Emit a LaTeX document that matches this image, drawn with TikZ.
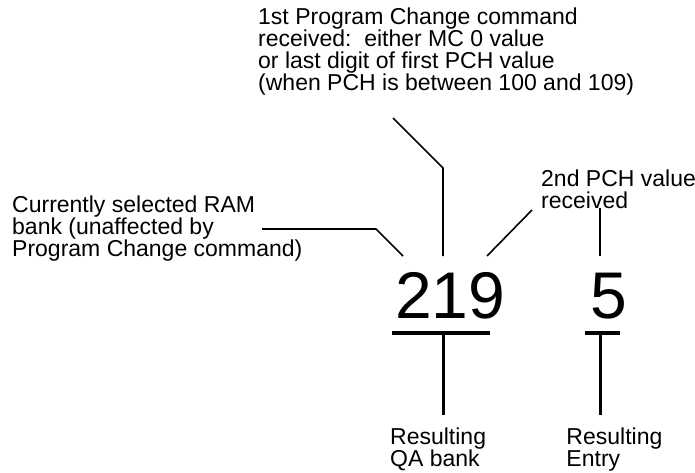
\documentclass[tikz,border=0pt]{standalone}
\usepackage{fontspec}
\setmainfont{Liberation Sans}
\usetikzlibrary{positioning}

\tikzset{
  note/.style={align=left, inner sep=0pt, anchor=north west,
    font=\fontsize{23}{22}\selectfont},
  digits/.style={inner sep=0pt, anchor=base west,
    font=\fontsize{66}{66}\selectfont},
  leader/.style={line width=1.6pt},
  bar/.style={line width=4pt},
  stem/.style={line width=3pt}
}

\begin{document}
\begin{tikzpicture}[x=1pt,y=-1pt]
  \useasboundingbox (0,0) rectangle (695,473);

  % the labels
  \node[note] (firstpch) at (258,8)
    {1st Program Change command\\received:\ \ either MC 0 value\\or last digit of first PCH value\\(when PCH is between 100 and 109)};
  \node[note] (rambank) at (12,196)
    {Currently selected RAM\\bank (unaffected by\\Program Change command)};
  \node[note] (secondpch) at (541,170) {2nd PCH value\\received};

  % the number
  \node[digits] (bank) at (395,318) {219};
  \node[digits] (entry) at (590,318) {5};

  \node[note] (qabank) at (390,428) {Resulting\\QA bank};
  \node[note] (result) [right=80pt of qabank.north east, anchor=north west] {Resulting\\Entry};

  % leader ends
  \coordinate (ramstart) at (262,229);
  \coordinate (ramknee) at (376,229);
  \coordinate (ramend) at (403,256);
  \coordinate (pchstart) at (393,118);
  \coordinate (pchknee) at (443,168);
  \coordinate (pchend) at (443,256);
  \coordinate (secstart) at (532,210);
  \coordinate (secend) at (487,256);
  \coordinate (entrystart) at (600,208);
  \coordinate (entryend) at (600,256);

  \draw[leader] (ramstart) -- (ramknee) -- (ramend);
  \draw[leader] (pchstart) -- (pchknee) -- (pchend);
  \draw[leader] (secstart) -- (secend);
  \draw[leader] (entrystart) -- (entryend);

  % the T shapes
  \coordinate (bankleft) at (392,333);
  \coordinate (bankright) at (490,333);
  \coordinate (banktop) at (443,333);
  \coordinate (bankfoot) at (443,415);
  \coordinate (entryleft) at (585,333);
  \coordinate (entryright) at (620,333);
  \coordinate (entrytop) at (600,333);
  \coordinate (entryfoot) at (600,415);

  \draw[bar] (bankleft) -- (bankright);
  \draw[stem] (banktop) -- (bankfoot);
  \draw[bar] (entryleft) -- (entryright);
  \draw[stem] (entrytop) -- (entryfoot);
\end{tikzpicture}
\end{document}
